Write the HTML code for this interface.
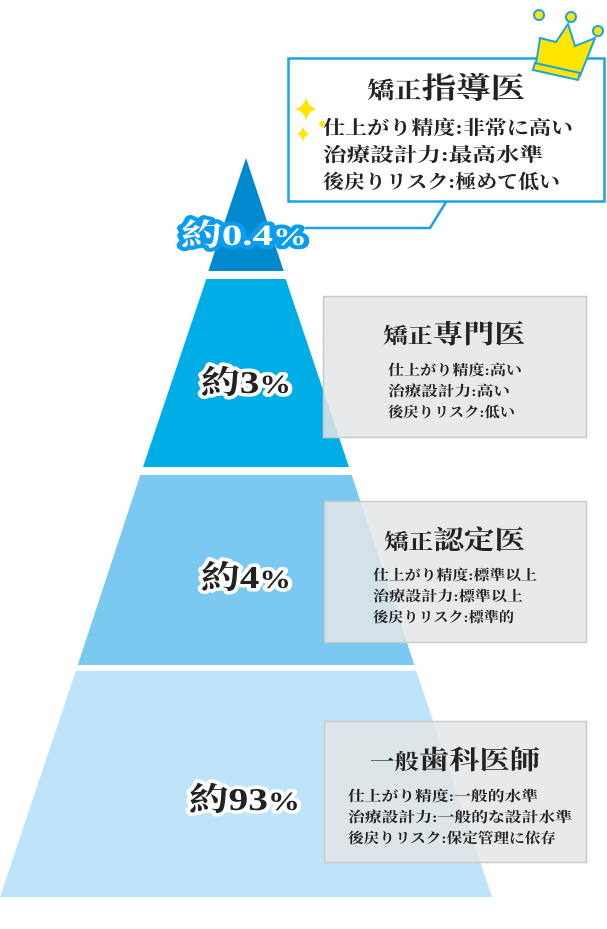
<!DOCTYPE html>
<html><head><meta charset="utf-8"><style>
html,body{margin:0;padding:0;background:#fff;}
svg text{font-family:"Liberation Serif","Noto Serif CJK SC",serif;}
</style></head><body>
<svg width="607" height="924" viewBox="0 0 607 924" xmlns="http://www.w3.org/2000/svg">
<polygon points="246,158 283.7,271 208.3,271" fill="#0089cc"/>
<polygon points="206.3,279 285.7,279 349,467 143,467" fill="#00aee6"/>
<polygon points="140.3,475 351.7,475 414.3,665 77.7,665" fill="#79c9f0"/>
<polygon points="75.7,671 416.3,671 492,897 0,897" fill="#bde4f8"/>

<rect x="323.5" y="296.5" width="263" height="141" fill="#e3e5e6" fill-opacity="0.85" stroke="#c8cacb" stroke-width="1.5"/>
<rect x="324.5" y="501.5" width="262" height="141" fill="#e3e5e6" fill-opacity="0.85" stroke="#c8cacb" stroke-width="1.5"/>
<rect x="324.5" y="721.5" width="262" height="141" fill="#e3e5e6" fill-opacity="0.85" stroke="#c8cacb" stroke-width="1.5"/>

<rect x="288.5" y="58.5" width="316" height="143" fill="#fff" stroke="#1aa3e6" stroke-width="2.5"/>
<polyline points="446,202 430,228 305,228" fill="none" stroke="#1aa3e6" stroke-width="2.5"/>

<g stroke="#1aa3e6" stroke-width="2" fill="#ffe600">
<polygon points="537,58 540,38 556,42 568,24 575,46 595,38 580,76 535,66"/>
<polygon points="535,63 580,73 578,80 533,70"/>
<circle cx="539" cy="15" r="5"/><circle cx="571" cy="17" r="5"/><circle cx="598" cy="31" r="5"/>
</g>
<g fill="#ffe600">
<path d="M306,97 Q308,107 317,109 Q308,111 306,121 Q304,111 295,109 Q304,107 306,97Z"/>
<path d="M303,126 Q304,132 309,134 Q304,136 303,142 Q302,136 297,134 Q302,132 303,126Z"/>
<path d="M322,119 Q323,123 326,124 Q323,125 322,129 Q321,125 318,124 Q321,123 322,119Z"/>
</g>

<g fill="#222" font-weight="bold" lengthAdjust="spacingAndGlyphs">
<text x="367" y="98" font-size="23" textLength="158" lengthAdjust="spacingAndGlyphs">矯正<tspan font-size="29">指導医</tspan></text>
<text x="323" y="134" font-size="19" textLength="250" lengthAdjust="spacingAndGlyphs">仕上がり精度:非常に高い</text>
<text x="323" y="161" font-size="19" textLength="220" lengthAdjust="spacingAndGlyphs">治療設計力:最高水準</text>
<text x="323" y="188" font-size="19" textLength="237" lengthAdjust="spacingAndGlyphs">後戻りリスク:極めて低い</text>

<text x="383" y="343" font-size="21" textLength="142" lengthAdjust="spacingAndGlyphs">矯正<tspan font-size="26">専門医</tspan></text>
<text x="388" y="375" font-size="14" textLength="134" lengthAdjust="spacingAndGlyphs">仕上がり精度:高い</text>
<text x="388" y="396" font-size="14" textLength="122" lengthAdjust="spacingAndGlyphs">治療設計力:高い</text>
<text x="388" y="417" font-size="14" textLength="127" lengthAdjust="spacingAndGlyphs">後戻りリスク:低い</text>

<text x="384" y="549" font-size="21" textLength="141" lengthAdjust="spacingAndGlyphs">矯正<tspan font-size="26">認定医</tspan></text>
<text x="373" y="580" font-size="14" textLength="164" lengthAdjust="spacingAndGlyphs">仕上がり精度:標準以上</text>
<text x="373" y="601" font-size="14" textLength="150" lengthAdjust="spacingAndGlyphs">治療設計力:標準以上</text>
<text x="373" y="622" font-size="14" textLength="141" lengthAdjust="spacingAndGlyphs">後戻りリスク:標準的</text>

<text x="370" y="769" font-size="21" textLength="170" lengthAdjust="spacingAndGlyphs">一般<tspan font-size="26">歯科医師</tspan></text>
<text x="348" y="801" font-size="14" textLength="190" lengthAdjust="spacingAndGlyphs">仕上がり精度:一般的水準</text>
<text x="348" y="822" font-size="14" textLength="224" lengthAdjust="spacingAndGlyphs">治療設計力:一般的な設計水準</text>
<text x="348" y="843" font-size="14" textLength="208" lengthAdjust="spacingAndGlyphs">後戻りリスク:保定管理に依存</text>
</g>

<g font-weight="bold" paint-order="stroke" stroke-linejoin="round">
<text x="181" y="245" font-size="30" fill="#fff" stroke="#0a9cf0" stroke-width="8" textLength="126" lengthAdjust="spacingAndGlyphs">約0.4<tspan font-size="25">%</tspan></text>
<text x="201" y="393" font-size="32" fill="#222" stroke="#fff" stroke-width="7" textLength="90" lengthAdjust="spacingAndGlyphs">約3<tspan font-size="26">%</tspan></text>
<text x="201" y="588" font-size="32" fill="#222" stroke="#fff" stroke-width="7" textLength="90" lengthAdjust="spacingAndGlyphs">約4<tspan font-size="26">%</tspan></text>
<text x="189" y="810" font-size="32" fill="#222" stroke="#fff" stroke-width="7" textLength="111" lengthAdjust="spacingAndGlyphs">約93<tspan font-size="26">%</tspan></text>
</g>
</svg>
</body></html>
